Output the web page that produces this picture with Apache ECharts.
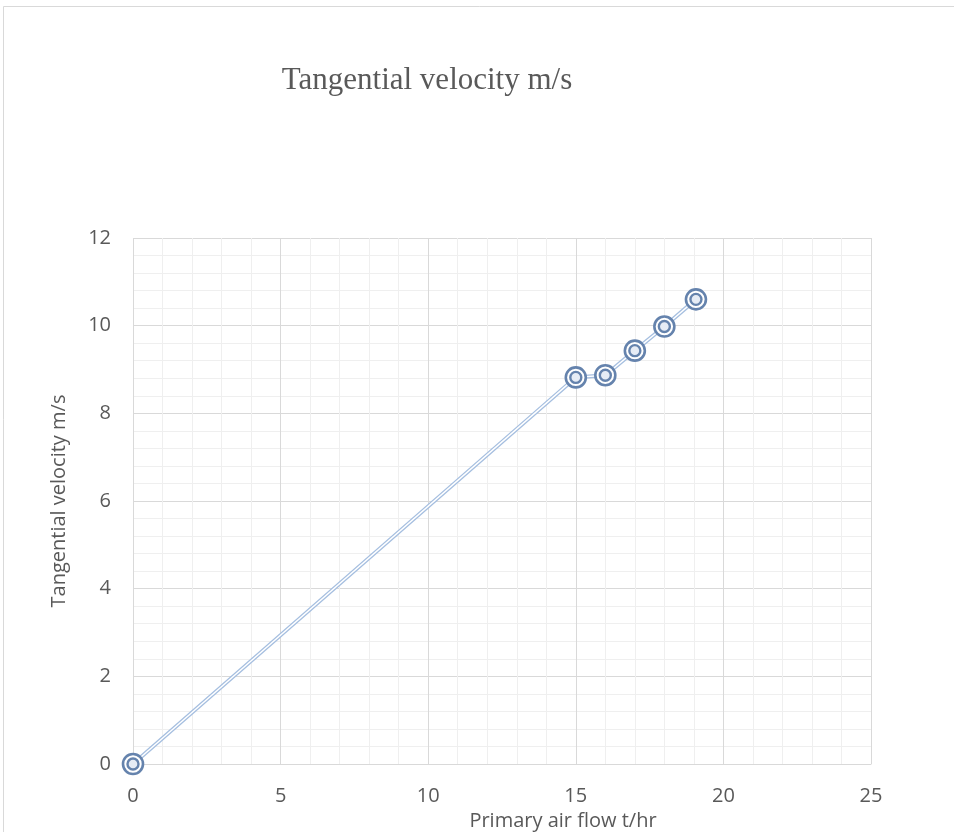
<!DOCTYPE html>
<html><head><meta charset="utf-8">
<script src="https://cdn.jsdelivr.net/npm/echarts@6/dist/echarts.min.js"></script>
<style>html,body{margin:0;padding:0;background:#fff}#c{width:954px;height:832px}</style>
</head><body><div id="c"></div>
<script>
const airFlow = [0, 15, 16, 17, 18, 19.07];
const velocity = [0, 8.82, 8.87, 9.43, 9.98, 10.6];
const xTicks = [0, 5, 10, 15, 20, 25];
const yTicks = [0, 2, 4, 6, 8, 10, 12];
const titleText = 'Tangential velocity m/s';
const xName = 'Primary air flow t/hr';
const yName = 'Tangential velocity m/s';

const pts = airFlow.map((x, i) => [x, velocity[i]]);
const chart = echarts.init(document.getElementById('c'));
const sans = '"Open Sans", "Liberation Sans", Arial, sans-serif';
chart.setOption({
  animation: false,
  backgroundColor: '#fff',
  title: { text: titleText, left: 422, textAlign: 'center', top: 60,
    textStyle: { fontFamily: '"Liberation Serif", serif', fontSize: 31, fontWeight: 'normal', color: '#595959' } },
  graphic: [{ type: 'rect', shape: { x: 3.5, y: 6.5, width: 960, height: 840 }, style: { fill: 'none', stroke: '#d9d9d9', lineWidth: 1 }, silent: true }],
  grid: { left: 133, right: 83, top: 238, bottom: 68, outerBoundsMode: 'none', containLabel: false },
  xAxis: {
    type: 'value', min: xTicks[0], max: xTicks[xTicks.length - 1], interval: 5,
    name: xName, nameLocation: 'middle', nameGap: 44,
    nameTextStyle: { fontFamily: sans, fontSize: 20, color: '#595959', padding: [0, 0, 0, 122] },
    axisLine: { show: true, lineStyle: { color: '#d9d9d9' } }, axisTick: { show: false },
    axisLabel: { fontFamily: sans, fontSize: 20, color: '#595959', margin: 22 },
    splitLine: { show: true, lineStyle: { color: '#d9d9d9', width: 1 } },
    minorTick: { show: false, splitNumber: 5 },
    minorSplitLine: { show: true, lineStyle: { color: '#efefef', width: 1 } }
  },
  yAxis: {
    type: 'value', min: yTicks[0], max: yTicks[yTicks.length - 1], interval: 2,
    name: yName, nameLocation: 'middle', nameGap: 64,
    nameTextStyle: { fontFamily: sans, fontSize: 20, color: '#595959' },
    axisLine: { show: false }, axisTick: { show: false },
    axisLabel: { fontFamily: sans, fontSize: 20, color: '#595959', margin: 22 },
    splitLine: { show: true, lineStyle: { color: '#d9d9d9', width: 1 } },
    minorTick: { show: false, splitNumber: 5 },
    minorSplitLine: { show: true, lineStyle: { color: '#efefef', width: 1 } }
  },
  series: [
    { type: 'line', data: pts, symbol: 'none', lineStyle: { color: '#a6bfe0', width: 4 }, z: 2 },
    { type: 'line', data: pts, symbol: 'none', lineStyle: { color: '#ffffff', width: 1.4 }, z: 3 },
    { type: 'scatter', data: pts, symbol: 'circle', symbolSize: 20,
      itemStyle: { color: '#ffffff', borderColor: '#6583ad', borderWidth: 2.6, opacity: 1 }, z: 4 },
    { type: 'scatter', data: pts, symbol: 'circle', symbolSize: 11,
      itemStyle: { color: '#e6ecf5', borderColor: '#6583ad', borderWidth: 2.4, opacity: 1 }, z: 5 }
  ]
});
</script></body></html>
